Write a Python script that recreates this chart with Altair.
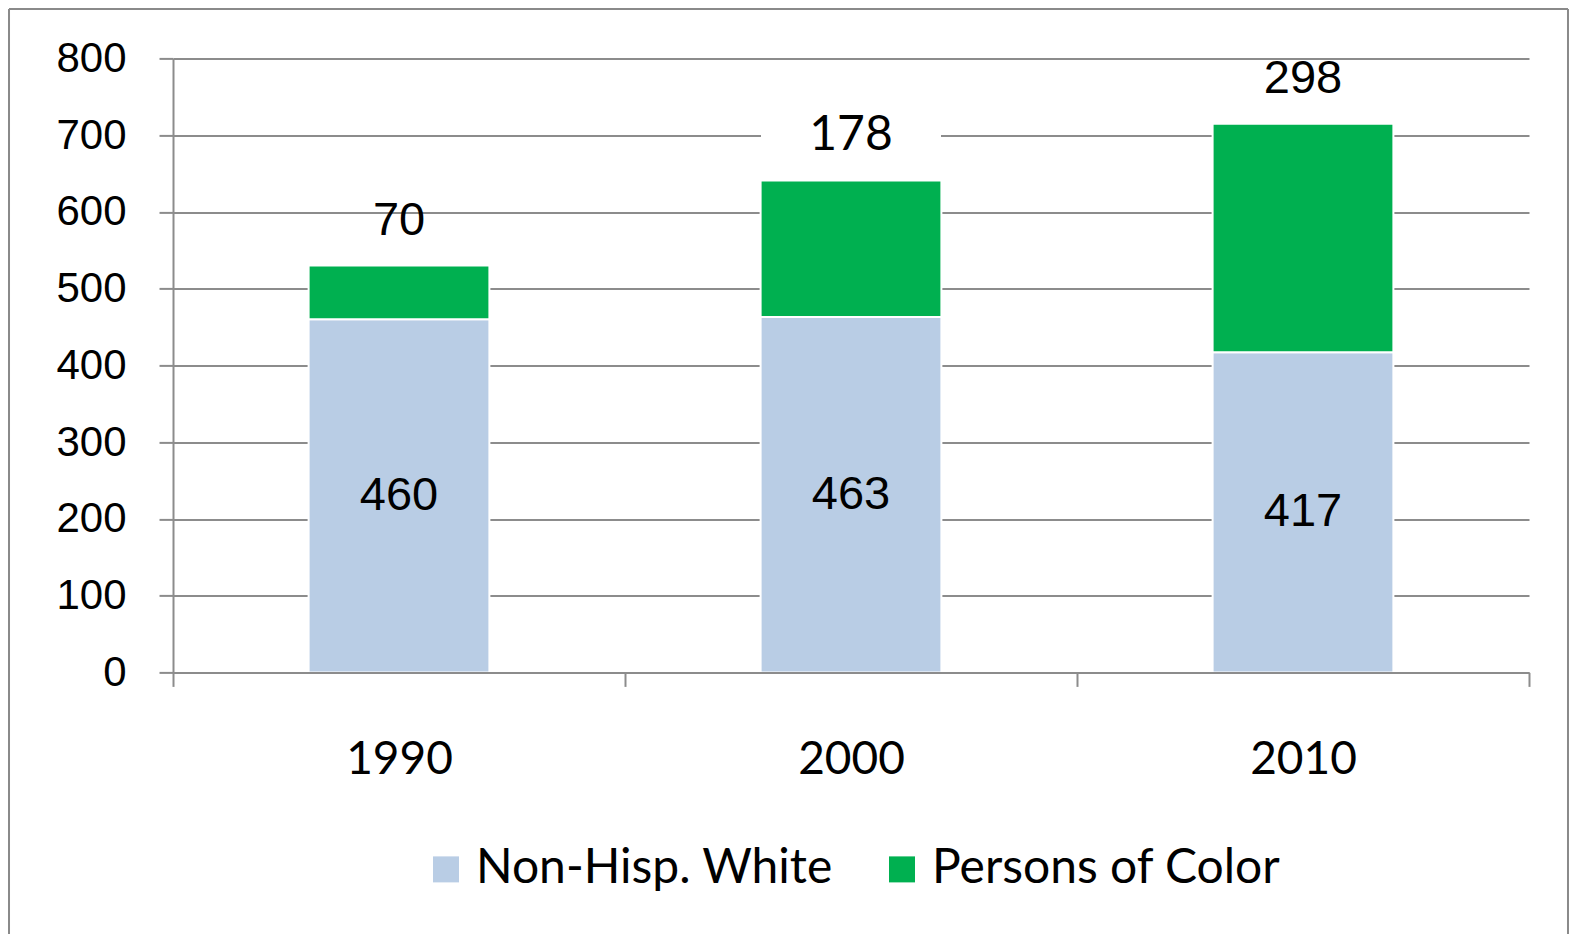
import altair as alt
import pandas as pd

years = ["1990", "2000", "2010"]
non_hisp_white = [460, 463, 417]
persons_of_color = [70, 178, 298]
series = ["Non-Hisp. White", "Persons of Color"]
series_colors = ["#B9CDE5", "#00B050"]
y_ticks = [0, 100, 200, 300, 400, 500, 600, 700, 800]

GRID = "#8C8C8C"
FRAME = "#8A8A8A"
W, H = 1356, 614

rows = []
for i, yr in enumerate(years):
    rows.append({"year": yr, "group": series[0], "value": non_hisp_white[i], "order": 0})
    rows.append({"year": yr, "group": series[1], "value": persons_of_color[i], "order": 1})
long_df = pd.DataFrame(rows)
wide_df = pd.DataFrame({"year": years, "white": non_hisp_white, "poc": persons_of_color})

x_scale = alt.Scale(domain=years, paddingInner=0, paddingOuter=0)
y_scale = alt.Scale(domain=[0, 800], nice=False)

x_axis = alt.Axis(title=None, labelAngle=0, labelFont="Lato", labelFontSize=46,
                  labelColor="black", labelPadding=51, tickBand="extent", tickSize=14,
                  tickColor=GRID, tickWidth=2, domainColor=GRID, domainWidth=2,
                  grid=False, zindex=1)
y_axis = alt.Axis(title=None, values=y_ticks, labelFont="Liberation Sans", labelFontSize=42,
                  labelColor="black", labelPadding=33, tickSize=14, tickColor=GRID,
                  tickWidth=2, domainColor=GRID, domainWidth=2, gridColor=GRID,
                  gridWidth=2, grid=True)

legend = alt.Legend(orient="none", legendX=249, legendY=787, direction="horizontal",
                    title=None, labelFont="Lato", labelFontSize=48, labelColor="black",
                    symbolType="square", symbolSize=676, symbolStrokeWidth=0,
                    labelOffset=6, columnPadding=44, padding=0, labelLimit=600)

bars = alt.Chart(long_df).mark_bar(
    stroke="white", strokeWidth=2, width=alt.RelativeBandSize(0.4)
).encode(
    x=alt.X("year:N", scale=x_scale, axis=x_axis),
    y=alt.Y("value:Q", stack="zero", scale=y_scale, axis=y_axis),
    color=alt.Color("group:N", scale=alt.Scale(domain=series, range=series_colors), legend=legend),
    order=alt.Order("order:Q"),
)

white_labels = alt.Chart(wide_df).transform_calculate(
    mid="datum.white / 2"
).mark_text(font="Liberation Sans", fontSize=47, color="black", baseline="middle").encode(
    x=alt.X("year:N", scale=x_scale),
    y=alt.Y("mid:Q", scale=y_scale),
    text=alt.Text("white:Q"),
)

label_bg = alt.Chart(wide_df).transform_filter(
    alt.datum.year == "2000"
).transform_calculate(
    lo="datum.white + datum.poc + 35", hi="datum.white + datum.poc + 85"
).mark_bar(color="white", width=180).encode(
    x=alt.X("year:N", scale=x_scale),
    y=alt.Y("lo:Q", scale=y_scale),
    y2="hi:Q",
)

top_labels_a = alt.Chart(wide_df).transform_filter(
    alt.datum.year != "2000"
).transform_calculate(
    total="datum.white + datum.poc"
).mark_text(font="Liberation Sans", fontSize=47, color="black", baseline="middle", dy=-45).encode(
    x=alt.X("year:N", scale=x_scale),
    y=alt.Y("total:Q", scale=y_scale),
    text=alt.Text("poc:Q"),
)

top_labels_b = alt.Chart(wide_df).transform_filter(
    alt.datum.year == "2000"
).transform_calculate(
    total="datum.white + datum.poc"
).mark_text(font="Lato", fontSize=48, color="black", baseline="middle", dy=-44).encode(
    x=alt.X("year:N", scale=x_scale),
    y=alt.Y("total:Q", scale=y_scale),
    text=alt.Text("poc:Q"),
)

one = pd.DataFrame({"k": [0]})
frame_top = alt.Chart(one).mark_rule(color=FRAME, strokeWidth=2).encode(
    x=alt.value(-164), x2=alt.value(1395), y=alt.value(-49.4))
frame_left = alt.Chart(one).mark_rule(color=FRAME, strokeWidth=2).encode(
    x=alt.value(-164), y=alt.value(-49.4), y2=alt.value(900))
frame_right = alt.Chart(one).mark_rule(color=FRAME, strokeWidth=2).encode(
    x=alt.value(1395), y=alt.value(-49.4), y2=alt.value(900))

chart = alt.layer(
    frame_top, frame_left, frame_right, bars, label_bg, white_labels, top_labels_a, top_labels_b
).properties(
    width=W, height=H,
    autosize=alt.AutoSizeParams(type="none"),
    padding={"left": 165, "top": 50.4, "right": 41, "bottom": 262},
).configure_view(stroke=None)

chart.save("out.html", embed_options={"renderer": "svg", "actions": False})
